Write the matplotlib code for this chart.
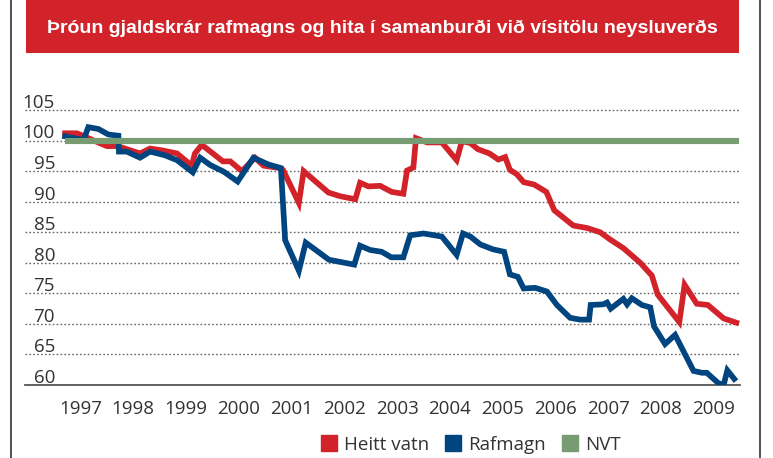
import matplotlib
matplotlib.use("Agg")
import matplotlib.pyplot as plt
from matplotlib.lines import Line2D
from matplotlib.patches import Rectangle

plt.rcParams['font.family'] = ['Open Sans', 'DejaVu Sans']

title = "Þróun gjaldskrár rafmagns og hita í samanburði við vísitölu neysluverðs"
years = list(range(1997, 2010))
y_ticks = [60, 65, 70, 75, 80, 85, 90, 95, 100, 105]

# Heitt vatn
heitt_t = [1997.21, 1997.43, 1997.49, 1997.81, 1998.00, 1998.16, 1998.31, 1998.63,
           1998.82, 1999.05, 1999.33, 1999.61, 1999.67, 1999.80, 2000.01, 2000.20,
           2000.34, 2000.56, 2000.81, 2000.97, 2001.28, 2001.34, 2001.64, 2001.73,
           2002.20, 2002.42, 2002.71, 2002.80, 2002.96, 2003.18, 2003.40, 2003.62,
           2003.69, 2003.81, 2003.86, 2004.07, 2004.35, 2004.63, 2004.73, 2004.89,
           2005.03, 2005.25, 2005.42, 2005.55, 2005.64, 2005.77, 2005.90, 2006.10,
           2006.33, 2006.48, 2006.84, 2007.10, 2007.35, 2007.54, 2007.79, 2008.11,
           2008.33, 2008.44, 2008.85, 2008.95, 2009.18, 2009.39, 2009.69, 2009.93]
heitt_v = [101.2, 101.2, 101.0, 99.8, 99.1, 99.1, 98.8, 97.9,
           98.7, 98.4, 97.9, 95.9, 97.9, 99.3, 97.9, 96.6,
           96.6, 95.0, 97.2, 95.9, 95.5, 95.2, 89.8, 95.0,
           91.5, 90.9, 90.4, 93.1, 92.5, 92.6, 91.6, 91.3,
           95.1, 95.6, 100.4, 99.7, 99.7, 96.8, 99.9, 99.6,
           98.6, 97.9, 96.9, 97.3, 95.2, 94.5, 93.2, 92.8,
           91.6, 88.6, 86.1, 85.7, 85.0, 83.8, 82.4, 80.0,
           77.9, 74.8, 70.3, 76.4, 73.3, 73.1, 70.9, 70.2]

# Rafmagn
rafm_t = [1997.21, 1997.56, 1997.65, 1997.84, 1998.03, 1998.22, 1998.23, 1998.38,
          1998.63, 1998.82, 1999.10, 1999.33, 1999.63, 1999.77, 1999.96, 2000.22,
          2000.48, 2000.78, 2001.06, 2001.30, 2001.38, 2001.64, 2001.77, 2002.21,
          2002.69, 2002.80, 2002.99, 2003.21, 2003.39, 2003.62, 2003.75, 2004.00,
          2004.35, 2004.63, 2004.75, 2004.89, 2005.08, 2005.32, 2005.53, 2005.64,
          2005.79, 2005.90, 2006.12, 2006.34, 2006.53, 2006.78, 2006.97, 2007.14,
          2007.17, 2007.41, 2007.48, 2007.55, 2007.79, 2007.86, 2007.95, 2008.14,
          2008.30, 2008.37, 2008.58, 2008.77, 2009.12, 2009.28, 2009.37, 2009.59,
          2009.69, 2009.76, 2009.89]
rafm_v = [100.7, 100.1, 102.2, 101.9, 101.0, 100.8, 98.2, 98.2,
          97.2, 98.2, 97.6, 96.8, 94.8, 97.2, 96.0, 94.9,
          93.3, 97.2, 96.1, 95.5, 83.7, 78.7, 83.3, 80.5,
          79.7, 82.8, 82.1, 81.8, 80.9, 80.9, 84.5, 84.8,
          84.3, 81.3, 84.8, 84.3, 83.0, 82.2, 81.8, 78.1,
          77.7, 75.8, 75.9, 75.3, 73.1, 71.0, 70.7, 70.7,
          73.1, 73.2, 73.5, 72.5, 74.1, 73.2, 74.2, 73.1,
          72.7, 69.6, 66.7, 68.2, 62.3, 62.0, 62.0, 60.3,
          60.0, 62.4, 61.0]

# NVT (vísitala neysluverðs)
nvt_t = [1997.21, 2009.99]
nvt_v = [100, 100]

red = '#d2232a'
blue = '#00457f'
green = '#789c71'
text_col = '#333333'

W, H = 773, 458
fig = plt.figure(figsize=(W / 100, H / 100), dpi=100)
ax = fig.add_axes([25 / W, (H - 385) / H, 715 / W, 284 / H])

ax.plot(heitt_t, heitt_v, color=red, lw=4.1, solid_joinstyle='miter', zorder=3)
ax.plot(rafm_t, rafm_v, color=blue, lw=4.1, solid_joinstyle='miter', zorder=4)
ax.plot(nvt_t, nvt_v, color=green, lw=4.4, solid_capstyle='butt', zorder=5)

ax.set_xlim(1996.45, 2010.0)
ax.set_ylim(60, 60 + 284 / 6.11)

ax.set_yticks(y_ticks[1:])
ax.yaxis.grid(True, color='#666666', linestyle=(0, (1.2, 1.6)), lw=1.0)
ax.tick_params(axis='y', length=0, labelleft=False)
for v in y_ticks:
    ax.text(0.042, v + 0.35, str(v), transform=ax.get_yaxis_transform(),
            ha='right', va='baseline', fontsize=13.5, color=text_col)

ax.set_xticks([y + 0.5 for y in years])
ax.set_xticklabels([str(y) for y in years], fontsize=13.5, color=text_col)
ax.tick_params(axis='x', length=0, pad=11)

for s in ['top', 'right', 'left']:
    ax.spines[s].set_visible(False)
ax.spines['bottom'].set_color('#555555')
ax.spines['bottom'].set_linewidth(1.3)

# title banner
fig.add_artist(Rectangle((26 / W, 1 - 53 / H), (739 - 26) / W, 53 / H,
                         transform=fig.transFigure, color=red, lw=0))
t = fig.text(382.5 / W, 1 - 33 / H, title, ha='center', va='baseline',
             color='white', fontweight='bold', fontsize=15,
             family=['Liberation Sans', 'DejaVu Sans'])
renderer = fig.canvas.get_renderer()
bw = t.get_window_extent(renderer).width
t.set_fontsize(15 * 672 / bw)

# side rules
fig.add_artist(Line2D([11 / W, 11 / W], [0, 1], color='#222222', lw=1.1))
fig.add_artist(Line2D([760 / W, 760 / W], [0, 1], color='#222222', lw=1.1))

handles = [Line2D([], [], marker='s', linestyle='none', markersize=11.5, color=c)
           for c in (red, blue, green)]
fig.legend(handles, ['Heitt vatn', 'Rafmagn', 'NVT'], loc='center',
           bbox_to_anchor=(471 / W, 1 - 445 / H), ncol=3, frameon=False,
           fontsize=13.5, handlelength=0.8, handletextpad=0.4,
           columnspacing=0.9, labelcolor=text_col)

fig.savefig('out.png', dpi=100)
